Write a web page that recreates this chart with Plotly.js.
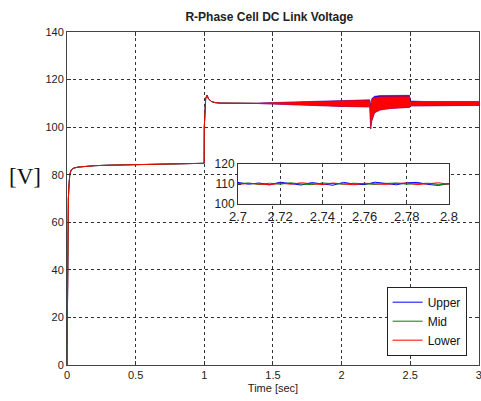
<!DOCTYPE html>
<html><head><meta charset="utf-8">
<script src="https://cdn.plot.ly/plotly-3.0.1.min.js"></script>
<style>html,body{margin:0;padding:0;background:#fff}#chart{width:481px;height:401px}</style>
</head><body><div id="chart"></div>
<script>
// Main trace (start-up and step), sec / V
const time  = [0, 0.003, 0.006, 0.01, 0.015, 0.02, 0.03, 0.05, 0.08, 0.12, 0.2, 0.3, 0.5, 0.7, 0.9, 0.999, 1.0, 1.01, 1.02, 1.03, 1.05, 1.08, 1.12, 1.2, 1.3, 1.4];
const upper = [0, 44, 60, 70, 76, 80, 82, 82.8, 83.2, 83.5, 83.8, 84, 84.2, 84.4, 84.6, 84.8, 100, 112, 113.5, 112, 110.8, 110.3, 110.1, 110, 110, 110];
const mid   = [0, 44, 60, 70, 76, 80, 82, 82.8, 83.2, 83.5, 83.8, 84, 84.2, 84.4, 84.6, 84.8, 100, 112, 113.5, 112, 110.8, 110.3, 110.1, 110, 110, 110];
const lower = [0, 44, 60, 70, 76, 80, 82, 82.8, 83.2, 83.5, 83.8, 84, 84.2, 84.4, 84.6, 84.8, 100, 112, 113.5, 112, 110.8, 110.3, 110.1, 110, 110, 110];

// Ripple envelope (noisy region)
const bandT       = [1.4, 1.5, 1.6, 1.7, 1.8, 1.9, 2.0, 2.1, 2.15, 2.205, 2.212, 2.215, 2.22, 2.24, 2.28, 2.35, 2.45, 2.495, 2.5, 2.6, 2.8, 3.0];
const bandHiUpper = [110.2, 110.4, 110.6, 110.7, 110.9, 111.1, 111.3, 111.5, 111.5, 111.5, 109.8, 107.8, 112.0, 113.0, 113.3, 113.4, 113.4, 113.4, 111.0, 110.8, 110.8, 110.8];
const bandHiLower = [110.1, 110.3, 110.4, 110.5, 110.7, 110.9, 111.1, 111.3, 111.3, 111.3, 109.5, 107.5, 111.7, 112.5, 112.8, 112.9, 112.9, 112.9, 110.7, 110.6, 110.6, 110.6];
const bandLo      = [109.9, 109.7, 109.5, 109.3, 109.1, 108.9, 108.7, 108.6, 108.5, 108.5, 99.2, 99.5, 102.5, 106.0, 107.2, 107.8, 108.2, 108.3, 108.9, 109.0, 109.1, 109.1];

// Zoomed inset
const insetT     = [2.700, 2.705, 2.710, 2.715, 2.720, 2.725, 2.730, 2.735, 2.740, 2.745, 2.750, 2.755, 2.760, 2.765, 2.770, 2.775, 2.780, 2.785, 2.790, 2.795, 2.800];
const insetUpper = [110.8, 109.9, 110.5, 109.6, 110.9, 110.1, 109.5, 110.7, 110.2, 109.4, 110.8, 110.0, 109.7, 110.9, 110.3, 109.6, 110.6, 110.8, 109.8, 109.3, 110.2];
const insetMid   = [110.2, 110.5, 109.8, 110.4, 109.9, 110.6, 110.0, 109.7, 110.5, 110.2, 109.9, 110.4, 110.1, 109.8, 110.3, 110.5, 109.9, 110.1, 110.4, 109.8, 110.0];
const insetLower = [109.8, 110.3, 110.0, 109.6, 110.4, 109.9, 110.6, 110.2, 109.7, 110.5, 110.0, 109.6, 110.4, 110.1, 109.8, 110.3, 110.5, 109.7, 110.2, 110.6, 109.9];

const names = ['Upper', 'Mid', 'Lower'];
const colors = ['#0000ff', '#008000', '#ff0000'];

function poly(t, hi, lo) {
  return {x: t.concat(t.slice().reverse()), y: hi.concat(lo.slice().reverse())};
}
const pu = poly(bandT, bandHiUpper, bandLo);
const pl = poly(bandT, bandHiLower, bandLo);

const traces = [
  {x: pu.x, y: pu.y, fill: 'toself', fillcolor: colors[0], line: {width: 0.5, color: colors[0]}, mode: 'lines', showlegend: false, hoverinfo: 'skip'},
  {x: pl.x, y: pl.y, fill: 'toself', fillcolor: colors[2], line: {width: 0.5, color: colors[2]}, mode: 'lines', showlegend: false, hoverinfo: 'skip'},
  {x: time, y: upper, name: names[0], mode: 'lines', line: {color: colors[0], width: 1}},
  {x: time, y: mid, name: names[1], mode: 'lines', line: {color: colors[1], width: 1}},
  {x: time, y: lower, name: names[2], mode: 'lines', line: {color: colors[2], width: 1}},
  {x: insetT, y: insetUpper, xaxis: 'x2', yaxis: 'y2', mode: 'lines', line: {color: colors[0], width: 1}, showlegend: false},
  {x: insetT, y: insetMid, xaxis: 'x2', yaxis: 'y2', mode: 'lines', line: {color: colors[1], width: 1}, showlegend: false},
  {x: insetT, y: insetLower, xaxis: 'x2', yaxis: 'y2', mode: 'lines', line: {color: colors[2], width: 1}, showlegend: false}
];

const axFont = {family: 'Arial, Liberation Sans, sans-serif', size: 11, color: '#222'};
const layout = {
  width: 481, height: 401,
  margin: {l: 67, r: 2, t: 32, b: 36},
  paper_bgcolor: '#fff', plot_bgcolor: '#fff',
  title: {text: '<b>R-Phase Cell DC Link Voltage</b>', font: {family: 'Arial, Liberation Sans, sans-serif', size: 12, color: '#222'}, x: 0.56, xanchor: 'center', y: 0.958, yanchor: 'middle'},
  showlegend: true,
  legend: {x: 0.97, xanchor: 'right', y: 0.028, yanchor: 'bottom', bgcolor: '#fff', bordercolor: '#222', borderwidth: 1, font: {family: 'Arial, Liberation Sans, sans-serif', size: 12, color: '#111'}, tracegroupgap: 0},
  xaxis: {domain: [0, 1], range: [0, 3.001], dtick: 0.5, tick0: 0, ticks: 'inside', ticklen: 4, tickcolor: '#333', showgrid: true, gridcolor: '#333', griddash: 'dot', gridwidth: 1, zeroline: false, showline: true, linecolor: '#444', mirror: 'ticks', tickfont: axFont, ticklabeloverflow: 'allow', title: {text: 'Time [sec]', font: axFont, standoff: 4}},
  yaxis: {domain: [0, 1], range: [0, 140], dtick: 20, tick0: 0, ticks: 'inside', ticklen: 4, tickcolor: '#333', showgrid: true, gridcolor: '#333', griddash: 'dot', gridwidth: 1, zeroline: false, showline: true, linecolor: '#444', mirror: 'ticks', tickfont: axFont},
  xaxis2: {domain: [0.415, 0.927], anchor: 'y2', range: [2.7, 2.8], dtick: 0.02, tick0: 2.7, ticks: 'inside', ticklen: 3, tickcolor: '#333', showgrid: true, gridcolor: '#333', griddash: 'dot', zeroline: false, showline: true, linecolor: '#333', mirror: true, tickfont: {family: 'Arial, Liberation Sans, sans-serif', size: 13, color: '#222'}},
  yaxis2: {domain: [0.483, 0.604], anchor: 'x2', range: [100, 120], dtick: 10, tick0: 100, ticks: 'inside', ticklen: 3, tickcolor: '#333', showgrid: false, zeroline: false, showline: true, linecolor: '#333', mirror: true, tickfont: {family: 'Arial, Liberation Sans, sans-serif', size: 12, color: '#222'}},
  shapes: [
    {type: 'rect', xref: 'x2 domain', yref: 'y2 domain', x0: 0, x1: 1, y0: 0, y1: 1, fillcolor: '#fff', line: {width: 0}, layer: 'below'}
  ],
  annotations: [
    {text: '[V]', xref: 'paper', yref: 'paper', x: -0.103, y: 0.565, xanchor: 'center', yanchor: 'middle', showarrow: false, font: {family: 'Liberation Serif, Times New Roman, serif', size: 23, color: '#111'}}
  ]
};
Plotly.newPlot('chart', traces, layout, {displayModeBar: false, staticPlot: true});
</script>
</body></html>
